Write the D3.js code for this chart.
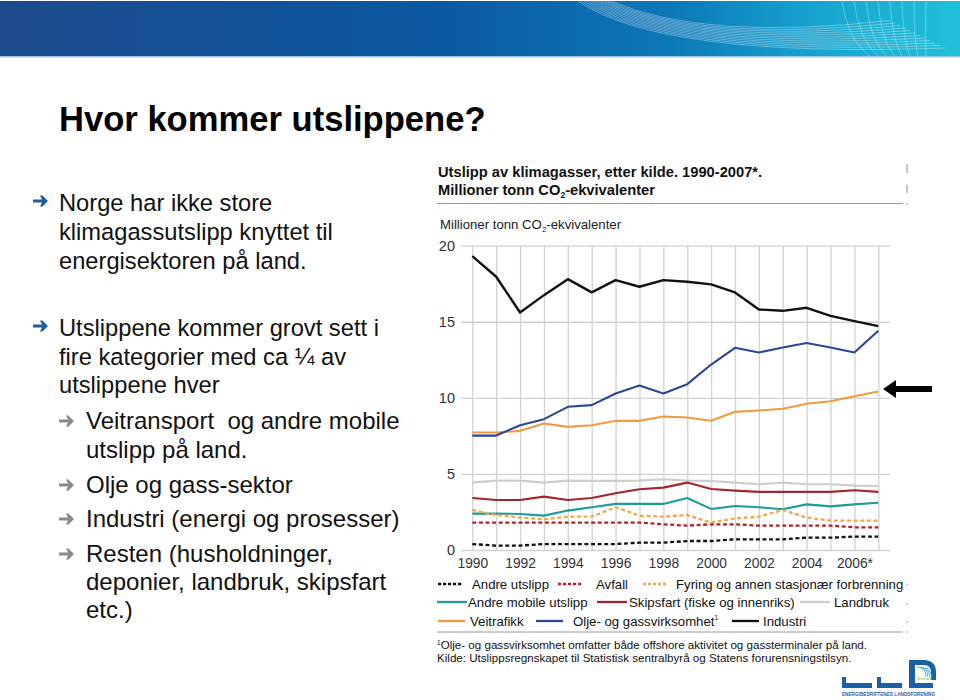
<!DOCTYPE html>
<html>
<head>
<meta charset="utf-8">
<script src="https://cdn.jsdelivr.net/npm/d3@7"></script>
<style>
html,body{margin:0;padding:0;background:#fff;}
svg{display:block;font-family:"Liberation Sans",Arial,sans-serif;}
</style>
</head>
<body>
<svg id="c" width="960" height="700"></svg>
<script>
// ---------- DATA ----------
const years = [1990,1991,1992,1993,1994,1995,1996,1997,1998,1999,2000,2001,2002,2003,2004,2005,2006,2007];
const industri     = [19.32,17.96,15.61,16.75,17.80,16.93,17.74,17.30,17.74,17.63,17.46,16.93,15.81,15.72,15.92,15.39,15.04,14.71];
const oljeGass     = [7.52,7.52,8.20,8.60,9.41,9.52,10.29,10.81,10.29,10.90,12.19,13.29,12.98,13.31,13.60,13.31,12.98,14.41];
const veitrafikk   = [7.72,7.72,7.83,8.31,8.09,8.20,8.49,8.49,8.77,8.71,8.49,9.08,9.17,9.28,9.61,9.78,10.11,10.42];
const landbruk     = [4.43,4.56,4.56,4.43,4.56,4.54,4.54,4.56,4.65,4.56,4.54,4.43,4.32,4.43,4.32,4.32,4.23,4.21];
const skipsfart    = [3.42,3.29,3.29,3.51,3.29,3.42,3.73,3.99,4.10,4.43,4.01,3.90,3.82,3.82,3.82,3.82,3.93,3.82];
const andreMobile  = [2.39,2.39,2.37,2.26,2.59,2.81,3.03,3.03,3.03,3.42,2.70,2.89,2.81,2.68,3.00,2.87,3.00,3.11];
const fyring       = [2.63,2.30,2.13,2.02,2.19,2.19,2.81,2.26,2.19,2.30,1.80,2.08,2.19,2.63,2.13,1.93,1.93,1.93];
const avfall       = [1.80,1.80,1.80,1.80,1.80,1.80,1.80,1.80,1.69,1.60,1.69,1.69,1.60,1.60,1.60,1.60,1.49,1.49];
const andreUtslipp = [0.39,0.29,0.29,0.39,0.39,0.39,0.39,0.48,0.48,0.59,0.59,0.70,0.70,0.70,0.81,0.81,0.88,0.88];

const yTicks = [0,5,10,15,20];
const xTickYears = [1990,1992,1994,1996,1998,2000,2002,2004,2006];
const xTickLabels = ["1990","1992","1994","1996","1998","2000","2002","2004","2006*"];

const seriesNames = ["Landbruk","Skipsfart (fiske og innenriks)","Andre mobile utslipp","Fyring og annen stasjonær forbrenning","Avfall","Andre utslipp","Veitrafikk","Olje- og gassvirksomhet","Industri"];
const seriesValues = [landbruk,skipsfart,andreMobile,fyring,avfall,andreUtslipp,veitrafikk,oljeGass,industri];

// ---------- STYLES / LAYOUT ----------
const style = {
  "Landbruk":{c:"#cdcdcd",dash:null},
  "Skipsfart (fiske og innenriks)":{c:"#a3262f",dash:null},
  "Andre mobile utslipp":{c:"#1d9c9c",dash:null},
  "Fyring og annen stasjonær forbrenning":{c:"#f4a84c",dash:"4,2.6"},
  "Avfall":{c:"#b0252b",dash:"4,2.6"},
  "Andre utslipp":{c:"#111",dash:"4,2.6"},
  "Veitrafikk":{c:"#f39a3e",dash:null},
  "Olje- og gassvirksomhet":{c:"#2b4898",dash:null},
  "Industri":{c:"#111",dash:null}
};

const svg = d3.select("#c");
const defs = svg.append("defs");

// ---------- BANNER ----------
const g1 = defs.append("linearGradient").attr("id","ban").attr("x1","0").attr("x2","1").attr("y1","0").attr("y2","0");
g1.append("stop").attr("offset","0").attr("stop-color","#1c4a8b");
g1.append("stop").attr("offset","0.45").attr("stop-color","#0b58a0");
g1.append("stop").attr("offset","0.7").attr("stop-color","#0c78b8");
g1.append("stop").attr("offset","0.85").attr("stop-color","#17a4cf");
g1.append("stop").attr("offset","1").attr("stop-color","#20c0d8");
svg.append("rect").attr("x",0).attr("y",1).attr("width",960).attr("height",55).attr("fill","url(#ban)");
svg.append("rect").attr("x",0).attr("y",56).attr("width",960).attr("height",1.5).attr("fill","#9cc8e6");
const bl = svg.append("g").attr("fill","none").attr("stroke","#ffffff").attr("stroke-width",0.7);
for(let i=0;i<12;i++){
  bl.append("path").attr("opacity",0.5)
    .attr("d",`M${578+i*3},1 Q${660+i*4},${58-i*1.5} ${945-i*5},${48-i*2.5}`);
}
for(let i=0;i<8;i++){
  bl.append("path").attr("opacity",0.45)
    .attr("d",`M${842+i*12},1 Q${848+i*11},${40} ${870+i*8},${56}`);
}

// ---------- TITLE & BULLETS ----------
svg.append("text").attr("x",59).attr("y",131).attr("font-size",34.6).attr("font-weight","bold").attr("fill","#000").text("Hvor kommer utslippene?");

function arrow(x,cy,col){
  svg.append("path").attr("fill",col)
    .attr("d",`M${x},${cy-1.6} L${x+9},${cy-1.6} L${x+7},${cy-5.5} L${x+9.5},${cy-5.5} L${x+15},${cy} L${x+9.5},${cy+5.5} L${x+7},${cy+5.5} L${x+9},${cy+1.6} L${x},${cy+1.6} Z`);
}
const bulletLines = [
  {x:59,y:211,t:"Norge har ikke store"},
  {x:59,y:240,t:"klimagassutslipp knyttet til"},
  {x:59,y:269,t:"energisektoren på land."},
  {x:59,y:336,t:"Utslippene kommer grovt sett i"},
  {x:59,y:365,t:"fire kategorier med ca ¼ av"},
  {x:59,y:393,t:"utslippene hver"},
  {x:86,y:429,t:"Veitransport  og andre mobile"},
  {x:86,y:458,t:"utslipp på land."},
  {x:86,y:493,t:"Olje og gass-sektor"},
  {x:86,y:527,t:"Industri (energi og prosesser)"},
  {x:86,y:562,t:"Resten (husholdninger,"},
  {x:86,y:590,t:"deponier, landbruk, skipsfart"},
  {x:86,y:618,t:"etc.)"}
];
svg.append("g").selectAll("text").data(bulletLines).join("text")
  .attr("x",d=>d.x).attr("y",d=>d.y).attr("font-size",d=>d.x>80?24:23.7).attr("fill","#111")
  .style("white-space","pre").text(d=>d.t);
arrow(33,201,"#1f5fa3");
arrow(33,326,"#1f5fa3");
arrow(59,421,"#8a8a8a");
arrow(59,485,"#8a8a8a");
arrow(59,519,"#8a8a8a");
arrow(59,554,"#8a8a8a");

// ---------- CHART HEADER ----------
const hdr = svg.append("g").attr("fill","#111");
hdr.append("text").attr("x",438).attr("y",177).attr("font-size",14.7).attr("font-weight","bold").text("Utslipp av klimagasser, etter kilde. 1990-2007*.");
const t2 = hdr.append("text").attr("x",438).attr("y",194.5).attr("font-size",14.7).attr("font-weight","bold");
t2.append("tspan").text("Millioner tonn CO");
t2.append("tspan").attr("font-size",8.5).attr("dy",3).text("2");
t2.append("tspan").attr("dy",-3).text("-ekvivalenter");
svg.append("line").attr("x1",437).attr("x2",903).attr("y1",203.5).attr("y2",203.5).attr("stroke","#9a9a9a").attr("stroke-width",1);
const t3 = svg.append("text").attr("x",440).attr("y",229).attr("font-size",13.2).attr("fill","#222");
t3.append("tspan").text("Millioner tonn CO");
t3.append("tspan").attr("font-size",8).attr("dy",3).text("2");
t3.append("tspan").attr("dy",-3).text("-ekvivalenter");

// small artefact marks at right edge
const am = svg.append("g").attr("stroke","#8a8a8a").attr("stroke-width",1);
am.append("line").attr("x1",907).attr("x2",907).attr("y1",164).attr("y2",173);
am.append("line").attr("x1",907).attr("x2",907).attr("y1",185).attr("y2",193);
[204,585,604,622,632].forEach(y=>am.append("line").attr("x1",907).attr("x2",907).attr("y1",y-0.7).attr("y2",y+0.7));

// ---------- SCALES ----------
const x = d3.scaleLinear().domain([1990,2007]).range([472.3,878.3]);
const y = d3.scaleLinear().domain([0,20]).range([550,245.7]);
const plotL = 461, plotR = 890;

// horizontal grid + y labels
const yAx = svg.append("g").attr("transform",`translate(${plotL},0)`)
  .call(d3.axisLeft(y).tickValues(yTicks).tickSize(-(plotR-plotL)).tickPadding(6));
yAx.select(".domain").remove();
yAx.selectAll(".tick line").attr("stroke","#d2d2d2").attr("stroke-width",1.3);
yAx.selectAll(".tick text").attr("font-size",14.5).attr("fill","#333").attr("font-family","Liberation Sans, Arial, sans-serif");

// vertical grid
const vAx = svg.append("g").attr("transform",`translate(0,${y(0)})`)
  .call(d3.axisBottom(x).tickValues(years).tickSize(-(y(0)-y(20))).tickFormat(""));
vAx.select(".domain").remove();
vAx.selectAll(".tick line").attr("stroke","#d2d2d2").attr("stroke-width",1.3);

// x labels
const xAx = svg.append("g").attr("transform",`translate(0,${y(0)})`)
  .call(d3.axisBottom(x).tickValues(xTickYears).tickSize(0).tickPadding(8).tickFormat((d,i)=>xTickLabels[i]));
xAx.select(".domain").remove();
xAx.selectAll(".tick text").attr("font-size",13.8).attr("fill","#333").attr("font-family","Liberation Sans, Arial, sans-serif");

// ---------- LINES ----------
const line = d3.line().x((d,i)=>x(years[i])).y(d=>y(d));
svg.append("g").selectAll("path").data(seriesNames).join("path")
  .attr("d",(n,i)=>line(seriesValues[i]))
  .attr("fill","none")
  .attr("stroke",n=>style[n].c)
  .attr("stroke-width",n=>style[n].dash?2.3:(n==="Industri"?2.4:2.1))
  .attr("stroke-dasharray",n=>style[n].dash)
  .attr("stroke-linejoin","round");

// black pointer arrow
svg.append("path").attr("fill","#000")
  .attr("d","M883,389 L896,380 L896,386 L932,386 L932,392 L896,392 L896,398 Z");

// ---------- LEGEND ----------
const legendItems = [
  {n:"Andre utslipp", sx:438, sw:24, tx:472, row:0},
  {n:"Avfall", sx:558, sw:24, tx:596, row:0},
  {n:"Fyring og annen stasjonær forbrenning", sx:643, sw:24, tx:676, row:0},
  {n:"Andre mobile utslipp", sx:437, sw:30, tx:468, row:1},
  {n:"Skipsfart (fiske og innenriks)", sx:597, sw:30, tx:629, row:1},
  {n:"Landbruk", sx:800, sw:30, tx:834, row:1},
  {n:"Veitrafikk", sx:438, sw:27, tx:470, row:2},
  {n:"Olje- og gassvirksomhet", sx:536, sw:27, tx:573, row:2, sup:"1"},
  {n:"Industri", sx:732, sw:27, tx:763, row:2}
];
const rowY = [584, 602, 621];
const rowBase = [588.5, 606.5, 626];
const lg = svg.append("g");
legendItems.forEach(it=>{
  const st = style[it.n];
  lg.append("line").attr("x1",it.sx).attr("x2",it.sx+it.sw).attr("y1",rowY[it.row]).attr("y2",rowY[it.row])
    .attr("stroke",st.c).attr("stroke-width",2.3).attr("stroke-dasharray",st.dash ? "3.2,1.8" : null);
  const t = lg.append("text").attr("x",it.tx).attr("y",rowBase[it.row]).attr("font-size",13.2).attr("fill","#111");
  t.append("tspan").text(it.n);
  if(it.sup) t.append("tspan").attr("font-size",7).attr("dy",-6).text(it.sup);
});
svg.append("line").attr("x1",437).attr("x2",903).attr("y1",632).attr("y2",632).attr("stroke","#9a9a9a").attr("stroke-width",1);
const f1 = svg.append("text").attr("x",437).attr("y",648.5).attr("font-size",11.6).attr("fill","#111");
f1.append("tspan").attr("font-size",6.5).attr("dy",-4).text("1");
f1.append("tspan").attr("dy",4).text("Olje- og gassvirksomhet omfatter både offshore aktivitet og gassterminaler på land.");
svg.append("text").attr("x",437).attr("y",662).attr("font-size",11.6).attr("fill","#111")
  .text("Kilde: Utslippsregnskapet til Statistisk sentralbyrå og Statens forurensningstilsyn.");

// ---------- LOGO ----------
const lgo = svg.append("g");
const blue = "#1b5fa6";
lgo.append("path").attr("fill",blue).attr("d","M842,677 L846,677 L846,683 L872,683 L872,688 L842,688 Z");
lgo.append("path").attr("fill",blue).attr("d","M877,677 L881,677 L881,683 L902,683 L902,688 L877,688 Z");
lgo.append("path").attr("fill",blue).attr("d","M909,660 L915,660 L915,683 L933,683 L933,688 L909,688 Z");
lgo.append("path").attr("fill",blue).attr("d","M915,660 L925,660 Q936,661 936,672 L936,680 L931,680 L931,673 Q931,665 924,665 L915,665 Z");
const tl = lgo.append("g").attr("stroke","#2bb0d8").attr("stroke-width",0.9).attr("fill","none");
for(let i=0;i<4;i++){ tl.append("path").attr("d",`M${917+i*3},${667+i*0.5} Q${926+i},${667} ${926+i*2},${677}`); }
const gd = lgo.append("g").attr("fill","#8cc63f");
[918,921,924,927,930].forEach(xx=>gd.append("rect").attr("x",xx).attr("y",678).attr("width",1.6).attr("height",1.6));
lgo.append("text").attr("x",842).attr("y",696).attr("font-size",4.6).attr("fill",blue).attr("font-weight","bold")
  .attr("textLength",93).text("ENERGIBEDRIFTENES LANDSFORENING");
</script>
</body>
</html>
